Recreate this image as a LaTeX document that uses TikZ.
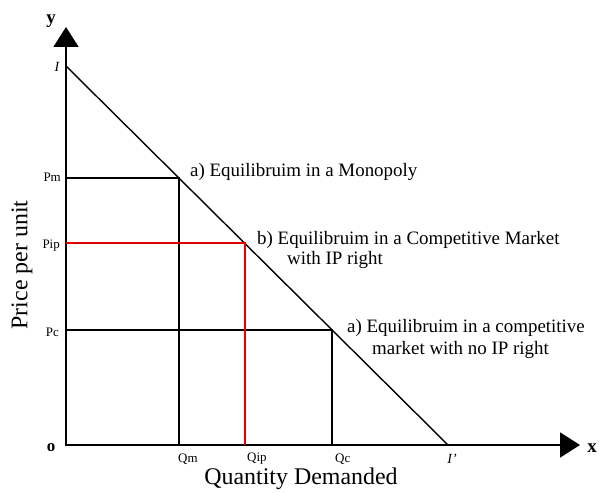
\documentclass[tikz,border=0pt]{standalone}
\usepackage{fontspec}
\setmainfont{Liberation Serif}
\usetikzlibrary{arrows.meta}

\begin{document}
\begin{tikzpicture}[x=1bp,y=-1bp,
    axis/.style={line width=1.8bp,line join=miter,
      {Triangle[length=20bp,width=25bp]}-{Triangle[length=20bp,width=25bp]}},
    guide/.style={line width=1.1bp},
    ipguide/.style={line width=1.1bp,draw=red!90!black},
    tick/.style={inner sep=0pt,font=\fontsize{13}{13}\selectfont},
    note/.style={inner sep=0pt,align=left,font=\fontsize{19}{20}\selectfont},
    title/.style={inner sep=0pt,font=\fontsize{24}{24}\selectfont}]
    \useasboundingbox (0,0) rectangle (600,493);

    % axes
    \coordinate (O) at (66,445);
    \coordinate (ytip) at (66,27);
    \coordinate (xtip) at (580,445);
    \draw[axis] (ytip) -- (O) -- (xtip);

    % demand line and the three equilibria
    \coordinate (I) at (66,66);
    \coordinate (Ip) at (448,445);
    \draw[line width=1.4bp] (I) -- (Ip);

    \coordinate (M) at (179,178);
    \coordinate (IP) at (245,243);
    \coordinate (C) at (332,330);

    \draw[guide] (O |- M) -- (M) -- (M |- O);
    \draw[guide] (O |- C) -- (C) -- (C |- O);
    \draw[ipguide] (O |- IP) -- (IP) -- (IP |- O);

    \node[font=\fontsize{19}{19}\selectfont\bfseries] (ylab) at (51,21) {y};
    \node[font=\fontsize{19}{19}\selectfont\bfseries] (xlab) at (592,448) {x};
    \node[font=\fontsize{17}{17}\selectfont\bfseries] (olab) at (51,448) {o};
    \node[font=\fontsize{14}{14}\selectfont\itshape] (ilab) at (57,67) {I};
    \node[font=\fontsize{14}{14}\selectfont\itshape] (iplab) at (452,459) {I'};

    \node[tick, anchor=east] (pm) at (61,177) {Pm};
    \node[tick, anchor=east] (pip) at (60,246) {Pip};
    \node[tick, anchor=east] (pc) at (59,332) {Pc};
    \node[tick, anchor=west] (qm) at (178,459) {Qm};
    \node[tick, anchor=west] (qip) at (247,459) {Qip};
    \node[tick, anchor=west] (qc) at (335,459) {Qc};

    \node[note, anchor=base west] (mono) at (190,177) {a) Equilibruim in a Monopoly};
    \node[note, anchor=west] (comp) at (257,250)
      {b) Equilibruim in a Competitive Market\\\hspace*{30bp}with IP right};
    \node[note, anchor=west] (nocomp) at (347,339)
      {a) Equilibruim in a competitive\\[3bp]\hspace*{25bp}market with no IP right};

    \node[title, rotate=90] (price) at (22,265) {Price per unit};
    \node[title] (qty) at (301,479) {Quantity Demanded};
\end{tikzpicture}
\end{document}
